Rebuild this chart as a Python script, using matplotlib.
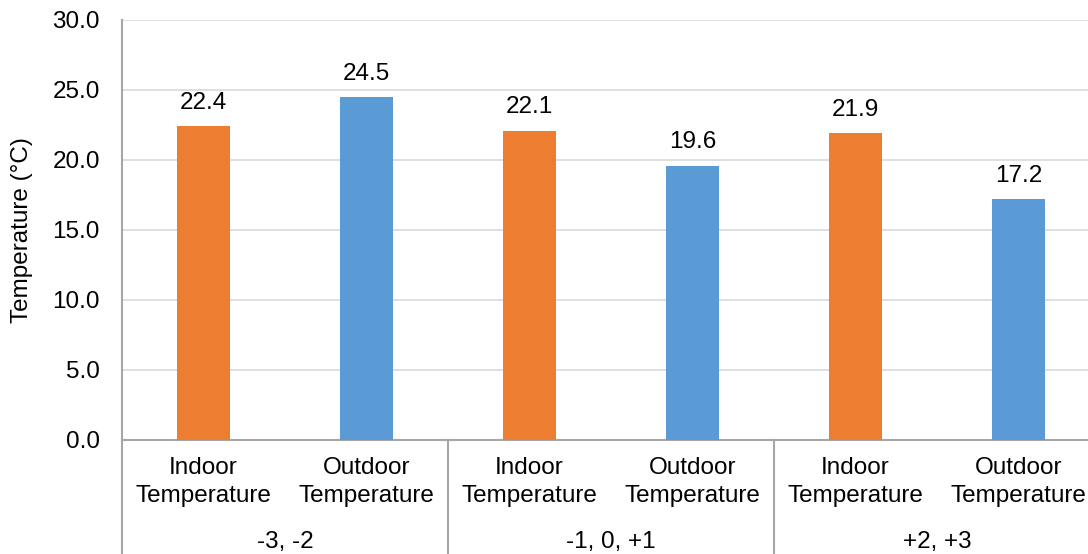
import numpy as np
import matplotlib
matplotlib.use("Agg")
import matplotlib.pyplot as plt
from matplotlib.transforms import blended_transform_factory

plt.rcParams['font.family'] = ['Liberation Sans', 'DejaVu Sans']

groups = ['-3, -2', '-1, 0, +1', '+2, +3']
series = ['Indoor\nTemperature', 'Outdoor\nTemperature']
indoor = [22.4, 22.1, 21.9]
outdoor = [24.5, 19.6, 17.2]

orange = '#ED7D31'
blue = '#5B9BD5'
axis_gray = '#A6A6A6'
grid_gray = '#D9D9D9'
fs = 17.5

fig = plt.figure(figsize=(10.88, 5.54), dpi=100)
ax = fig.add_axes([122 / 1088, 114 / 554, 978 / 1088, 420 / 554])

vals = []
cols = []
labels = []
for i, v in enumerate(indoor):
    vals += [v, outdoor[i]]
    cols += [orange, blue]
    labels += series
x = np.arange(len(vals))

bars = ax.bar(x, vals, width=0.32, color=cols, zorder=3)
for xi, v in zip(x, vals):
    ax.annotate(f'{v:.1f}', (xi, v), xytext=(0, 9), textcoords='offset points',
                ha='center', va='bottom', fontsize=fs)

ax.set_xlim(-0.5, len(vals) - 0.5)
ax.set_ylim(0, 30)
ax.set_yticks(np.arange(0, 30.1, 5))
ax.set_yticklabels([f'{t:.1f}' for t in np.arange(0, 30.1, 5)])
ax.yaxis.grid(True, color=grid_gray, linewidth=1.2, zorder=0)
ax.set_axisbelow(True)

ax.set_xticks(x)
ax.set_xticklabels(labels, linespacing=1.4)
ax.tick_params(axis='x', length=0, pad=12, labelsize=fs)
ax.tick_params(axis='y', length=0, pad=16, labelsize=fs)

for s in ['top', 'right']:
    ax.spines[s].set_visible(False)
for s in ['left', 'bottom']:
    ax.spines[s].set_color(axis_gray)
    ax.spines[s].set_linewidth(1.5)

ax.set_ylabel('Temperature (°C)', fontsize=fs, labelpad=14)

trans = blended_transform_factory(ax.transData, ax.transAxes)
for g in range(len(groups) + 1):
    xs = 2 * g - 0.5
    ax.plot([xs, xs], [0, -0.28], color=axis_gray, linewidth=1.5,
            transform=trans, clip_on=False)
for g, name in enumerate(groups):
    ax.text(2 * g + 0.5, -0.243, name, transform=trans, ha='center',
            va='center', fontsize=fs)

plt.savefig('out.png', dpi=100)
